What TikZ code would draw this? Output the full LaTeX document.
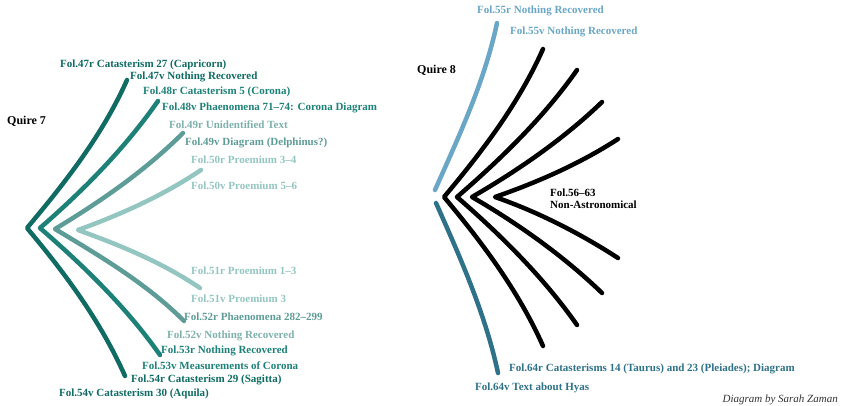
\documentclass[tikz,border=0pt]{standalone}
\usepackage{fontspec}
\setmainfont{Liberation Serif}

\definecolor{tealA}{HTML}{0F6B63}
\definecolor{tealB}{HTML}{1D8178}
\definecolor{tealC}{HTML}{5E9D97}
\definecolor{tealD}{HTML}{94C6C1}
\definecolor{blueA}{HTML}{6AA6C6}
\definecolor{blueB}{HTML}{2F7189}

\newcommand*{\picw}{842}
\newcommand*{\pich}{406}

\begin{document}
\begin{tikzpicture}
[
	x=1pt, y=-1pt,
	leaf/.style={line width=4.5pt,line cap=round,line join=round},
	lbl/.style={anchor=west,inner sep=0pt,font=\bfseries\fontsize{11}{12}\selectfont},
	quire/.style={anchor=west,inner sep=0pt,font=\bfseries\fontsize{12}{13}\selectfont}
]

	\useasboundingbox (0,0) rectangle (\picw,\pich);

	% quire 7
	\coordinate (v1) at (27,228);
	\coordinate (t1) at (127,80);
	\coordinate (b1) at (125,376);
	\coordinate (v2) at (40,228);
	\coordinate (t2) at (158,101);
	\coordinate (b2) at (160,355);
	\coordinate (v3) at (55,229);
	\coordinate (t3) at (183,133);
	\coordinate (b3) at (184,321);
	\coordinate (v4) at (78,230);
	\coordinate (t4) at (201,170);
	\coordinate (b4) at (200,288);

	\draw[leaf,tealA] (t1) .. controls +(-24.4,54.8) and +(38.6,-46) .. (v1)
		.. controls +(38.6,46) and +(-24.4,-54.8) .. (b1);
	\draw[leaf,tealB] (t2) .. controls +(-33.3,47.5) and +(43.8,-38) .. (v2)
		.. controls +(43.8,38) and +(-33.3,-47.5) .. (b2);
	\draw[leaf,tealC] (t3) .. controls +(-37.5,37.5) and +(45.4,-27.3) .. (v3)
		.. controls +(45.4,27.3) and +(-37.5,-37.5) .. (b3);
	\draw[leaf,tealD] (t4) .. controls +(-38.1,25.7) and +(43.2,-15.7) .. (v4)
		.. controls +(43.2,15.7) and +(-38.1,-25.7) .. (b4);

	\node[quire] (q7) at (7,121) {Quire 7};

	\node[lbl,tealA] (f47r) at (60,65) {Fol.47r Catasterism 27 (Capricorn)};
	\node[lbl,tealA] (f47v) at (130,77) {Fol.47v Nothing Recovered};
	\node[lbl,tealB] (f48r) at (143,92) {Fol.48r Catasterism 5 (Corona)};
	\node[lbl,tealB] (f48v) at (162,108) {Fol.48v Phaenomena 71--74: Corona Diagram};
	\node[lbl,tealC!80] (f49r) at (169,125) {Fol.49r Unidentified Text};
	\node[lbl,tealC] (f49v) at (185,143) {Fol.49v Diagram (Delphinus?)};
	\node[lbl,tealD] (f50r) at (191,160) {Fol.50r Proemium 3--4};
	\node[lbl,tealD] (f50v) at (191,186) {Fol.50v Proemium 5--6};
	\node[lbl,tealD] (f51r) at (191,271) {Fol.51r Proemium 1--3};
	\node[lbl,tealD] (f51v) at (191,299) {Fol.51v Proemium 3};
	\node[lbl,tealC] (f52r) at (184,317) {Fol.52r Phaenomena 282--299};
	\node[lbl,tealC!80] (f52v) at (167,336) {Fol.52v Nothing Recovered};
	\node[lbl,tealB] (f53r) at (161,351) {Fol.53r Nothing Recovered};
	\node[lbl,tealB] (f53v) at (142,366) {Fol.53v Measurements of Corona};
	\node[lbl,tealA] (f54r) at (131,380) {Fol.54r Catasterism 29 (Sagitta)};
	\node[lbl,tealA] (f54v) at (59,394) {Fol.54v Catasterism 30 (Aquila)};

	% quire 8
	\coordinate (ua) at (435,190);
	\coordinate (ut) at (497,23);
	\coordinate (la) at (436,203);
	\coordinate (lb) at (498,373);
	\coordinate (w1) at (444,197);
	\coordinate (s1) at (543,49);
	\coordinate (e1) at (543,346);
	\coordinate (w2) at (457,197);
	\coordinate (s2) at (577,70);
	\coordinate (e2) at (577,325);
	\coordinate (w3) at (472,197);
	\coordinate (s3) at (602,102);
	\coordinate (e3) at (602,293);
	\coordinate (w4) at (495,197);
	\coordinate (s4) at (618,139);
	\coordinate (e4) at (618,258);

	\draw[leaf,blueA] (ut) .. controls +(-12.5,58.7) and +(24.4,-54.8) .. (ua);
	\draw[leaf,blueB] (la) .. controls +(24.4,54.8) and +(-12.5,-58.7) .. (lb);

	\draw[leaf] (s1) .. controls +(-24.4,54.8) and +(38.6,-46) .. (w1)
		.. controls +(38.6,46) and +(-24.4,-54.8) .. (e1);
	\draw[leaf] (s2) .. controls +(-33.3,47.5) and +(43.8,-38) .. (w2)
		.. controls +(43.8,38) and +(-33.3,-47.5) .. (e2);
	\draw[leaf] (s3) .. controls +(-38.1,36.8) and +(45.9,-26.5) .. (w3)
		.. controls +(45.9,26.5) and +(-38.1,-36.8) .. (e3);
	\draw[leaf] (s4) .. controls +(-37.7,24.5) and +(42.5,-14.7) .. (w4)
		.. controls +(42.5,14.7) and +(-37.7,-24.5) .. (e4);

	\node[quire] (q8) at (417,70) {Quire 8};

	\node[lbl,blueA] (f55r) at (477,11) {Fol.55r Nothing Recovered};
	\node[lbl,blueA] (f55v) at (510,32) {Fol.55v Nothing Recovered};
	\node[lbl,align=left] (f56) at (550,199) {Fol.56--63\\Non-Astronomical};
	\node[lbl,blueB] (f64r) at (509,369) {Fol.64r Catasterisms 14 (Taurus) and 23 (Pleiades); Diagram};
	\node[lbl,blueB] (f64v) at (475,388) {Fol.64v Text about Hyas};

	\node[anchor=east,inner sep=0pt,black!80,font=\itshape\fontsize{11}{12}\selectfont] (credit) at (838,400) {Diagram by Sarah Zaman};

\end{tikzpicture}
\end{document}
